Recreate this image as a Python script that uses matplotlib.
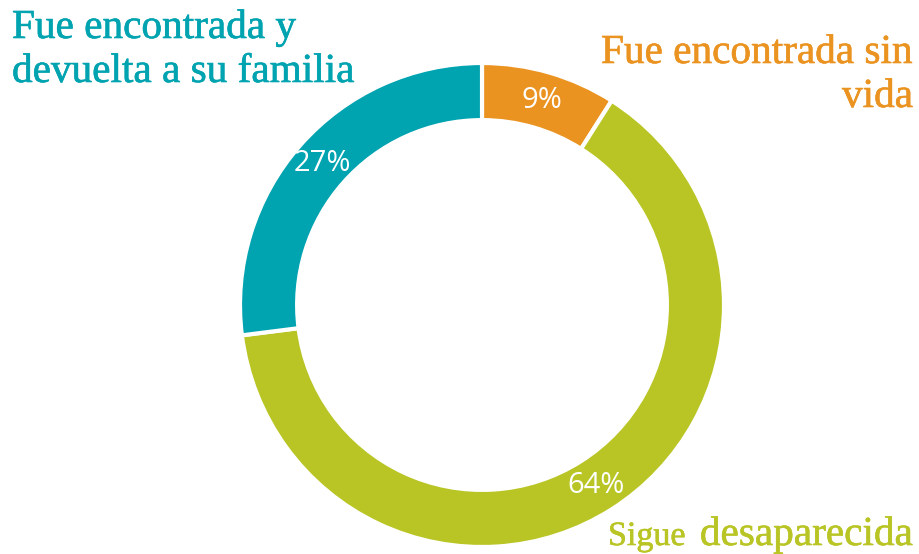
import matplotlib
matplotlib.use("Agg")
import matplotlib.pyplot as plt
import matplotlib.patheffects as pe

categories = ["Fue encontrada sin vida", "Sigue desaparecida", "Fue encontrada y devuelta a su familia"]
values = [9, 64, 27]
colors = ["#EB9320", "#B9C524", "#00A3B0"]

W, H = 920, 554
fig = plt.figure(figsize=(W / 100, H / 100), dpi=100)

cx, cy, R = 482, 305, 242
ax = fig.add_axes([(cx - R) / W, (H - cy - R) / H, 2 * R / W, 2 * R / H])

wedges, texts = ax.pie(
    values, colors=colors, startangle=90, counterclock=False, radius=1.0,
    wedgeprops=dict(width=0.236, edgecolor="white", linewidth=3),
    labels=[f"{v}%" for v in values], labeldistance=0.882,
    textprops=dict(color="white", fontsize=21, family="Open Sans",
                   ha="center", va="center"),
)
ax.set_xlim(-1, 1)
ax.set_ylim(-1, 1)
ax.set_aspect("equal")
ax.axis("off")

serif = "Liberation Serif"
def px(x, y):
    return x / W, 1 - y / H

fs = 29.7
def label(x, y, s, color, size=fs, ha="left"):
    t = fig.text(*px(x, y), s, color=color, fontsize=size, family=serif,
                 va="baseline", ha=ha)
    t.set_path_effects([pe.withStroke(linewidth=0.45, foreground=color)])
    return t

label(12, 38, "Fue encontrada y", colors[2])
label(12, 82, "devuelta a su familia", colors[2])
label(913, 63, "Fue encontrada sin", colors[0], ha="right")
label(913, 107, "vida", colors[0], ha="right")
label(608, 545, "Sigue", colors[1], size=24.5)
label(913, 545, "desaparecida", colors[1], ha="right")

fig.savefig("out.png", dpi=100, facecolor="white")
